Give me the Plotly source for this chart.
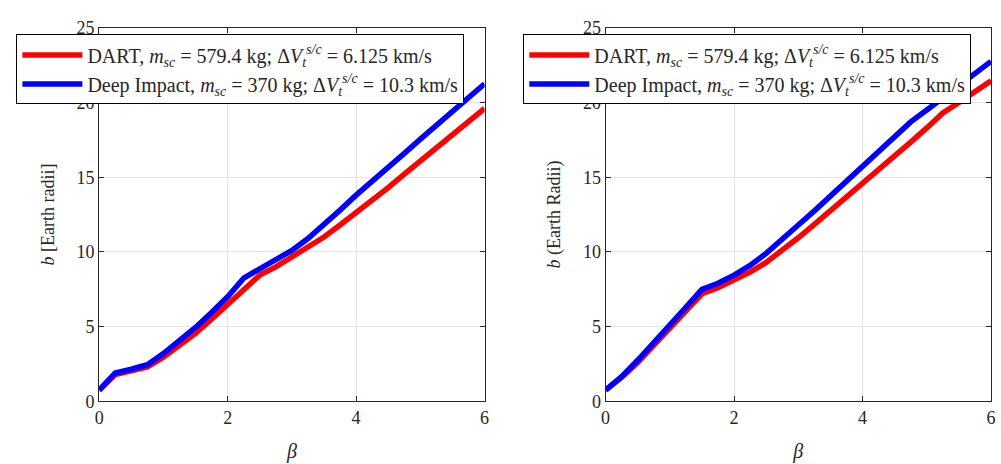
import plotly.graph_objects as go

beta = [0, 0.25, 0.5, 0.75, 1, 1.25, 1.5, 1.75, 2, 2.25, 2.5, 2.75, 3,
        3.25, 3.5, 3.75, 4, 4.25, 4.5, 4.75, 5, 5.25, 5.5, 5.75, 6]

left_dart = [0.75, 1.8, 2.05, 2.3, 2.95, 3.75, 4.55, 5.5, 6.5, 7.5, 8.45, 9.0, 9.65,
             10.3, 11.0, 11.8, 12.6, 13.45, 14.3, 15.2, 16.1, 16.95, 17.85, 18.75, 19.6]
left_di = [0.75, 1.9, 2.15, 2.45, 3.2, 4.05, 4.95, 5.95, 7.0, 8.25, 8.9, 9.45, 10.1,
           10.9, 11.8, 12.8, 13.8, 14.7, 15.65, 16.6, 17.55, 18.45, 19.4, 20.3, 21.25]
right_dart = [0.75, 1.6, 2.6, 3.75, 4.9, 6.05, 7.2, 7.6, 8.1, 8.65, 9.3, 10.1, 10.95,
              11.85, 12.75, 13.65, 14.55, 15.45, 16.4, 17.35, 18.3, 19.3, 20.0, 20.75, 21.45]
right_di = [0.75, 1.65, 2.75, 3.9, 5.1, 6.3, 7.5, 7.9, 8.45, 9.1, 9.9, 10.8, 11.8,
            12.75, 13.75, 14.75, 15.7, 16.7, 17.7, 18.7, 19.5, 20.3, 21.1, 21.95, 22.75]

name_dart = "DART, <i>m</i><sub><i>sc</i></sub> = 579.4 kg; Δ<i>V</i><sub><i>t</i></sub><sup><i>s/c</i></sup> = 6.125 km/s"
name_di = "Deep Impact, <i>m</i><sub><i>sc</i></sub> = 370 kg; Δ<i>V</i><sub><i>t</i></sub><sup><i>s/c</i></sup> = 10.3 km/s"

RED = "#ff0000"
BLUE = "#0000ff"
FONT = "'Liberation Serif', 'DejaVu Serif', serif"

fig = go.Figure()
fig.add_trace(go.Scatter(x=beta, y=left_dart, mode="lines", name=name_dart,
                         line=dict(color=RED, width=5.5), xaxis="x", yaxis="y", legend="legend"))
fig.add_trace(go.Scatter(x=beta, y=left_di, mode="lines", name=name_di,
                         line=dict(color=BLUE, width=5.5), xaxis="x", yaxis="y", legend="legend"))
fig.add_trace(go.Scatter(x=beta, y=right_dart, mode="lines", name=name_dart,
                         line=dict(color=RED, width=5.5), xaxis="x2", yaxis="y2", legend="legend2"))
fig.add_trace(go.Scatter(x=beta, y=right_di, mode="lines", name=name_di,
                         line=dict(color=BLUE, width=5.5), xaxis="x2", yaxis="y2", legend="legend2"))

axis_common = dict(
    showline=True, linecolor="#262626", linewidth=1, mirror="ticks",
    ticks="inside", ticklen=5, tickcolor="#262626",
    showgrid=True, gridcolor="#e3e3e3", gridwidth=1,
    zeroline=False, tickfont=dict(family=FONT, size=18, color="#262626"),
)

ydom = [0.1185, 0.960]
fig.update_layout(
    width=1001, height=464,
    margin=dict(l=0, r=0, t=0, b=0),
    paper_bgcolor="white", plot_bgcolor="white",
    font=dict(family=FONT, size=17, color="#262626"),
    xaxis=dict(domain=[0.0959, 0.4845], range=[0, 6], tickvals=[0, 2, 4, 6],
               title=dict(text="<i>β</i>", standoff=17, font=dict(family=FONT, size=20)), anchor="y", **axis_common),
    yaxis=dict(domain=ydom, range=[0, 25], tickvals=[0, 5, 10, 15, 20, 25],
               title=dict(text="<i>b</i> [Earth radii]", standoff=17, font=dict(family=FONT, size=18)), anchor="x", **axis_common),
    xaxis2=dict(domain=[0.6064, 0.995], range=[0, 6], tickvals=[0, 2, 4, 6],
                title=dict(text="<i>β</i>", standoff=17, font=dict(family=FONT, size=20)), anchor="y2", **axis_common),
    yaxis2=dict(domain=ydom, range=[0, 25], tickvals=[0, 5, 10, 15, 20, 25],
                title=dict(text="<i>b</i> (Earth Radii)", standoff=17, font=dict(family=FONT, size=18)), anchor="x2", **axis_common),
    legend=dict(x=0.0125, y=0.945, xanchor="left", yanchor="top",
                bgcolor="white", bordercolor="#000000", borderwidth=1,
                font=dict(family=FONT, size=20, color="#262626"), itemwidth=60,
                tracegroupgap=0),
    legend2=dict(x=0.5235, y=0.945, xanchor="left", yanchor="top",
                 bgcolor="white", bordercolor="#000000", borderwidth=1,
                 font=dict(family=FONT, size=20, color="#262626"), itemwidth=60,
                 tracegroupgap=0),
    showlegend=True,
)

fig.write_html("out.html")
